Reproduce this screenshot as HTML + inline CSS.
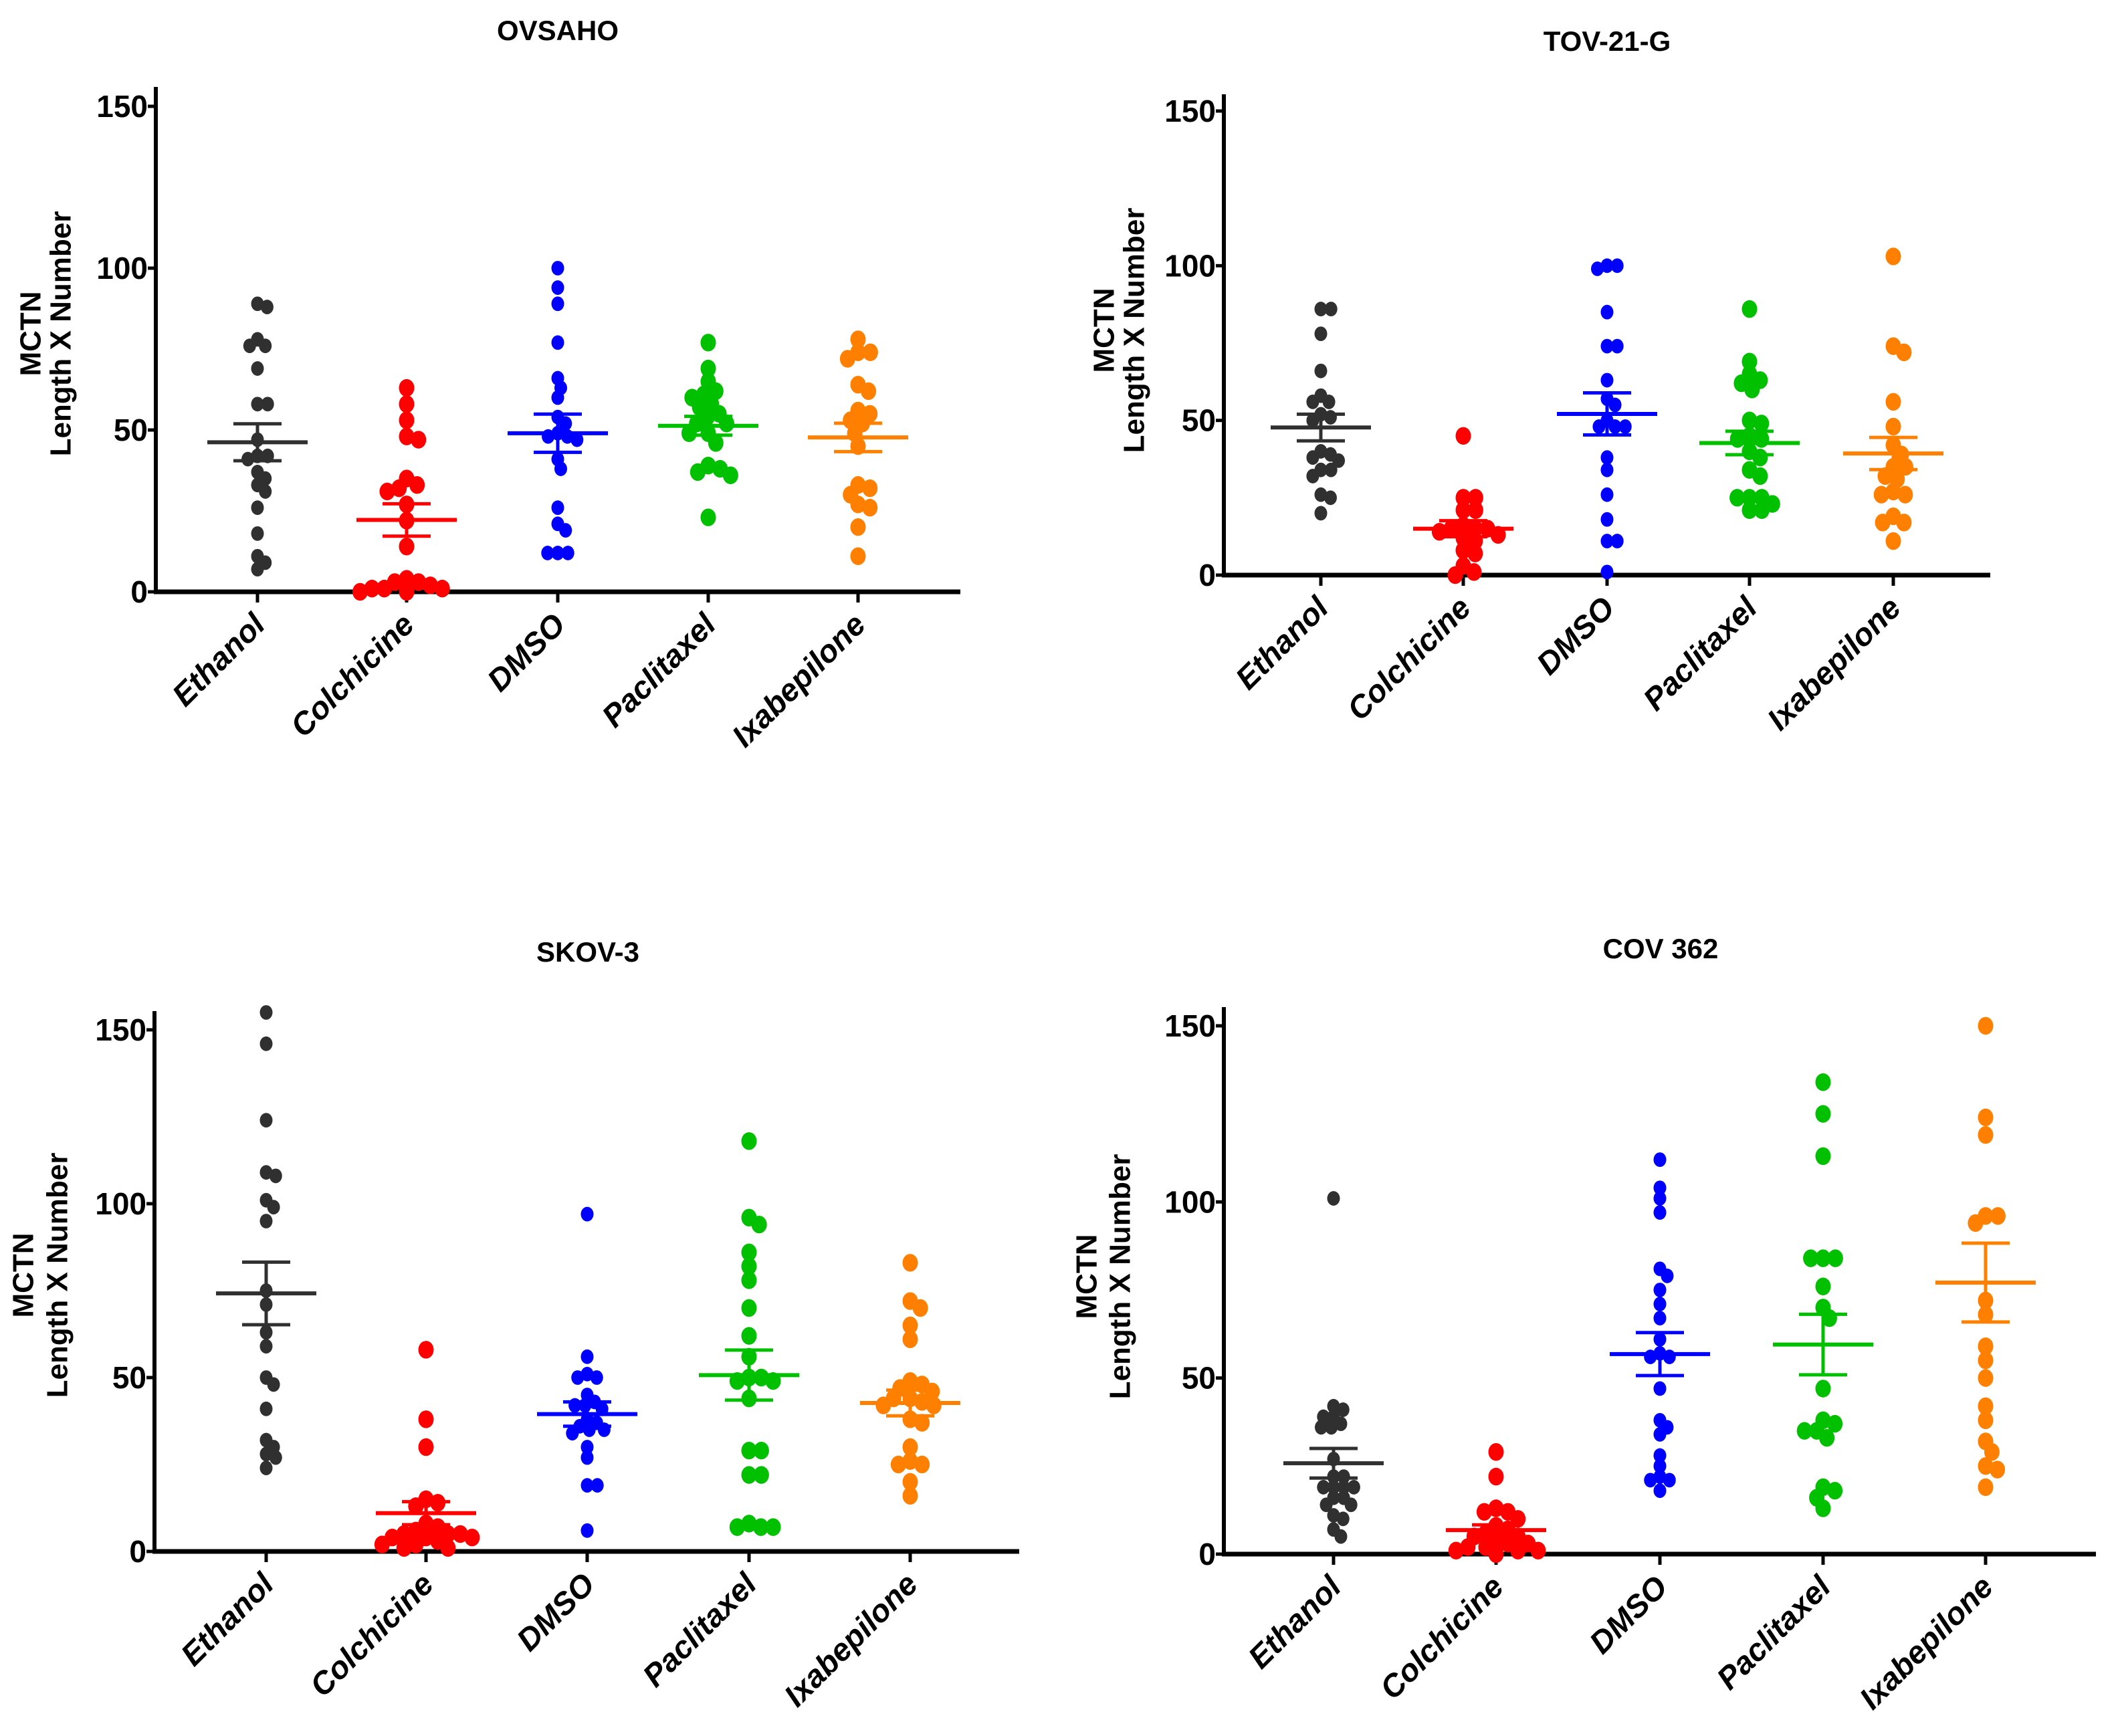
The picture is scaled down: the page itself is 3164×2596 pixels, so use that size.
<!DOCTYPE html>
<html><head><meta charset="utf-8">
<style>
html,body{margin:0;padding:0;background:#fff;}
svg{display:block;}
text{font-family:"Liberation Sans",sans-serif;font-weight:bold;fill:#000;}
.narrow{font-family:"Liberation Sans Narrow","Liberation Sans",sans-serif;}
</style></head>
<body>
<svg id="chart" width="3164" height="2596" viewBox="0 0 3164 2596" xmlns="http://www.w3.org/2000/svg"></svg>
<script>
// ---- data ----
const categories = ["Ethanol","Colchicine","DMSO","Paclitaxel","Ixabepilone"];
const colors = ["#303030","#ff0000","#0000ff","#00c000","#ff8000"];
const yTicks = [0,50,100,150];
const panelTitles = ["OVSAHO","TOV-21-G","SKOV-3","COV 362"];

const ovsahoEthanol = [88,89,76,78,76,69,58,58,47,42,42,41,37,35,33,31,26,18,11,9,7];
const ovsahoColchicine = [63,58,53,47,48,35,33,32,31,27,22,14,4,3,3,2,1,1,1,0,0];
const ovsahoDMSO = [100,94,89,77,66,63,60,54,52,49,48,48,47,41,38,26,21,19,12,12,12];
const ovsahoPaclitaxel = [77,69,65,62,61,60,58,57,55,54,52,52,49,49,46,39,38,37,36,23];
const ovsahoIxabepilone = [78,74,74,72,64,62,56,55,53,52,49,45,33,32,30,27,26,20,11];
const ovsahoMeans = [46.2,22.2,49,51.3,47.7];
const ovsahoSems = [5.7,5,5.9,2.9,4.4];

const tovEthanol = [86,86,78,66,58,56,56,52,50,51,40,39,38,37,34,34,32,26,25,20];
const tovColchicine = [45,25,25,21,21,16,15,15,15,14,13,12,11,8,7,3,1,0];
const tovDMSO = [100,100,99,85,74,74,63,57,55,50,48,48,48,38,34,26,18,11,11,1];
const tovPaclitaxel = [86,69,65,63,62,60,50,49,45,44,44,40,38,34,32,25,25,25,23,21,21];
const tovIxabepilone = [103,74,72,56,48,42,39,35,35,32,31,26,26,27,19,17,17,11];
const tovMeans = [47.7,15,52.1,42.7,39.3];
const tovSems = [4.3,2.6,6.8,3.8,5.2];

const skovEthanol = [155,146,124,109,108,101,99,95,75,71,63,59,50,48,41,32,30,28,27,24];
const skovColchicine = [58,38,30,15,14,13,8,7,6,5,5,5,4,4,4,3,2,2,1,1];
const skovDMSO = [97,56,51,50,50,45,43,42,42,41,38,37,36,35,35,34,30,27,19,19,6];
const skovPaclitaxel = [118,96,94,86,82,78,70,62,56,50,50,49,49,44,29,29,22,22,8,7,7,7];
const skovIxabepilone = [83,72,70,65,61,49,48,47,46,44,44,43,42,42,38,37,30,26,25,25,20,16];
const skovMeans = [74.2,11,39.5,50.7,42.7];
const skovSems = [9,3.3,3.5,7.2,3.7];

const covEthanol = [101,42,41,39,39,37,36,36,27,22,22,19,19,19,19,16,16,14,14,11,10,7,5];
const covColchicine = [29,22,13,12,12,10,8,7,6,5,5,4,3,3,2,2,1,1,1,0];
const covDMSO = [112,104,101,97,81,79,75,71,67,61,57,56,56,47,38,36,34,28,25,22,21,21,18];
const covPaclitaxel = [134,125,113,84,84,84,76,70,67,47,38,37,35,35,33,19,18,16,13];
const covIxabepilone = [150,124,119,96,96,94,72,68,59,55,50,42,38,32,29,25,24,19];
const covMeans = [25.8,6.8,56.8,59.5,77.1];
const covSems = [4.2,1.5,6.1,8.6,11.2];

const panelSeries = [
  [ovsahoEthanol,ovsahoColchicine,ovsahoDMSO,ovsahoPaclitaxel,ovsahoIxabepilone],
  [tovEthanol,tovColchicine,tovDMSO,tovPaclitaxel,tovIxabepilone],
  [skovEthanol,skovColchicine,skovDMSO,skovPaclitaxel,skovIxabepilone],
  [covEthanol,covColchicine,covDMSO,covPaclitaxel,covIxabepilone]
];
const panelMeans = [ovsahoMeans,tovMeans,skovMeans,covMeans];
const panelSems = [ovsahoSems,tovSems,skovSems,covSems];

// ---- layout ----
const layouts = [
  {ax:233,top:130,y0:885,y150:159,xEnd:1436,catX:[385,608,834,1059,1283],titleX:834,titleY:60,labX1:46,labX2:91,labY:499},
  {ax:1830,top:141,y0:860,y150:166,xEnd:2976,catX:[1975,2188,2403,2616,2831],titleX:2403,titleY:76,labX1:1651,labX2:1696,labY:494},
  {ax:231,top:1512,y0:2320,y150:1540,xEnd:1524,catX:[398,637,878,1120,1361],titleX:879,titleY:1438,labX1:35,labX2:86,labY:1907},
  {ax:1830,top:1506,y0:2324,y150:1534,xEnd:3134,catX:[1994,2237,2482,2726,2969],titleX:2483,titleY:1433,labX1:1625,labX2:1675,labY:1909}
];
const NS="http://www.w3.org/2000/svg";
const svg=document.getElementById("chart");
function mk(tag,attrs,parent){const e=document.createElementNS(NS,tag);for(const k in attrs)e.setAttribute(k,attrs[k]);(parent||svg).appendChild(e);return e;}

function swarm(ys,d){
  const placed=[];const xs=new Array(ys.length);
  const order=ys.map((y,i)=>i).sort((a,b)=>ys[a]-ys[b]);
  order.forEach(i=>{
    const y=ys[i];let cands=[0];
    placed.forEach(p=>{const dy=Math.abs(p.y-y);if(dy<d){const dx=Math.sqrt(d*d-dy*dy);cands.push(p.x+dx,p.x-dx);}});
    cands.sort((a,b)=>Math.abs(a)-Math.abs(b));
    let best=0;
    for(const c of cands){if(placed.every(p=>Math.hypot(p.x-c,p.y-y)>=d-0.5)){best=c;break;}}
    xs[i]=best;placed.push({x:best,y:y});
  });
  return xs;
}

layouts.forEach((L,pi)=>{
  const g=mk("g",{});
  
  
  const yS=v=>L.y0-v*(L.y0-L.y150)/150;
  const t=mk("text",{x:L.titleX,y:L.titleY,"text-anchor":"middle","font-size":42,class:"narrow"},g);
  t.textContent=panelTitles[pi];
  
  
  const yt=mk("text",{transform:`translate(${L.labX1},${L.labY}) rotate(-90)`,"text-anchor":"middle","font-size":44,"dominant-baseline":"central"},g);
  yt.textContent="MCTN";
  
  
  const yt2=mk("text",{transform:`translate(${L.labX2},${L.labY}) rotate(-90)`,"text-anchor":"middle","font-size":44,"dominant-baseline":"central"},g);
  yt2.textContent="Length X Number";
  
  
  const ya=mk("line",{x1:L.ax,y1:L.top,x2:L.ax,y2:L.y0+3,stroke:"#000","stroke-width":6},g);
  
  
  const xa=mk("line",{x1:L.ax-3,y1:L.y0,x2:L.xEnd,y2:L.y0,stroke:"#000","stroke-width":7},g);
  
  
  yTicks.forEach(v=>{
    mk("line",{x1:L.ax-12,y1:yS(v),x2:L.ax,y2:yS(v),stroke:"#000","stroke-width":5},g);
    const tl=mk("text",{x:L.ax-12,y:yS(v)+16,"text-anchor":"end","font-size":46,class:"narrow"},g);
    tl.textContent=v;
    
    
  });
  categories.forEach((c,ci)=>{
    const cx=L.catX[ci];
    mk("line",{x1:cx,y1:L.y0,x2:cx,y2:L.y0+16,stroke:"#000","stroke-width":5},g);
    const xl=mk("text",{transform:`translate(${cx+14},${L.y0+52}) rotate(-45)`,"text-anchor":"end","font-size":47,"font-style":"italic"},g);
    xl.textContent=c;
    
    
    const vals=panelSeries[pi][ci];
    const r=ci===0||ci===2?9.5:11.5;
    const ys=vals.map(yS);
    const xs=swarm(ys,r*1.6);
    vals.forEach((v,k)=>{
      const dot=mk("ellipse",{cx:cx+xs[k],cy:ys[k],rx:r,ry:r*1.15,fill:colors[ci]},g);
      
      
    });
    const m=panelMeans[pi][ci],s=panelSems[pi][ci];
    const ml=mk("line",{x1:cx-75,y1:yS(m),x2:cx+75,y2:yS(m),stroke:colors[ci],"stroke-width":6},g);
    
    
    const eb=mk("path",{d:`M${cx-36},${yS(m+s)}H${cx+36}M${cx-36},${yS(m-s)}H${cx+36}M${cx},${yS(m+s)}V${yS(m-s)}`,stroke:colors[ci],"stroke-width":5,fill:"none"},g);
    
    
  });
});
</script>
</body></html>
